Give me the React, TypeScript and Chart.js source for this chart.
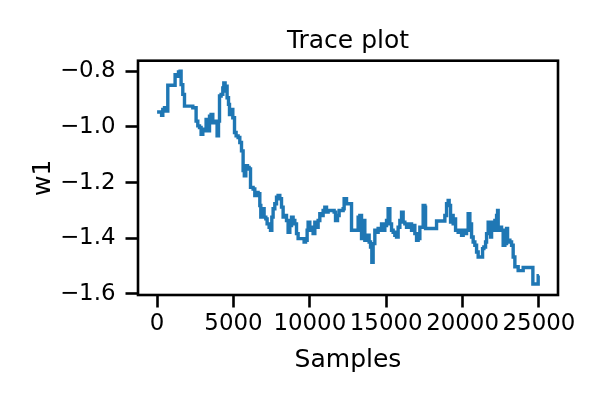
import React, { useEffect, useRef } from 'react';
import { Chart, registerables } from 'chart.js';

Chart.register(...registerables);

const titleText = 'Trace plot';
const xLabel = 'Samples';
const yLabel = 'w1';

const samples = [0,262,295,373,485,589,668,701,1094,1179,1290,1401,1506,1572,1683,1794,2227,2338,2449,2554,2665,2777,2882,2993,3104,3209,3320,3432,3536,3648,3798,3929,4021,4087,4191,4303,4368,4453,4519,4584,4676,4741,4846,4958,5069,5174,5305,5416,5527,5632,5711,5809,5920,6025,6117,6287,6398,6510,6614,6726,6791,6903,7007,7119,7204,7335,7427,7512,7597,7708,7820,7924,8036,8147,8252,8363,8474,8579,8691,8802,8907,9018,9129,9234,9457,9627,9719,9824,9889,10000,10112,10216,10328,10439,10544,10655,10766,10871,10982,11094,11199,11592,11683,11814,11919,12181,12247,12404,12620,12731,12947,13163,13275,13386,13491,13602,13713,13884,13976,14061,14146,14257,14369,14473,14585,14696,14801,14912,15023,15128,15240,15351,15456,15567,15678,15783,15895,16006,16111,16222,16333,16438,16661,16766,16877,16989,17093,17205,17316,17421,17532,17578,18187,18298,18796,18842,18953,19058,19124,19215,19281,19385,19451,19543,19713,19825,19936,20041,20152,20263,20368,20479,20590,20695,20806,20918,21023,21245,21311,21396,21507,21573,21678,21790,21836,21901,22005,22051,22117,22228,22293,22333,22444,22555,22660,22772,22883,22948,23099,23210,23315,23426,23642,23865,23970,24507,24605,24867,24952,25000];

const w1 = [-0.946,-0.946,-0.958,-0.937,-0.931,-0.943,-0.943,-0.850,-0.850,-0.812,-0.818,-0.802,-0.800,-0.848,-0.883,-0.925,-0.925,-0.931,-0.931,-0.979,-0.996,-1.002,-1.026,-1.008,-1.014,-0.973,-1.014,-0.961,-0.955,-0.985,-0.979,-1.032,-0.979,-0.889,-0.883,-0.860,-0.842,-0.871,-0.854,-0.895,-0.919,-0.955,-0.937,-0.967,-1.020,-1.032,-1.038,-1.056,-1.086,-1.157,-1.175,-1.139,-1.145,-1.151,-1.217,-1.223,-1.246,-1.235,-1.240,-1.282,-1.324,-1.294,-1.324,-1.330,-1.348,-1.360,-1.371,-1.324,-1.294,-1.276,-1.252,-1.246,-1.258,-1.288,-1.324,-1.318,-1.336,-1.378,-1.354,-1.324,-1.336,-1.348,-1.383,-1.401,-1.401,-1.413,-1.407,-1.371,-1.342,-1.360,-1.371,-1.383,-1.342,-1.360,-1.336,-1.312,-1.318,-1.300,-1.288,-1.306,-1.300,-1.306,-1.336,-1.318,-1.300,-1.294,-1.258,-1.276,-1.276,-1.371,-1.371,-1.324,-1.318,-1.401,-1.336,-1.407,-1.389,-1.413,-1.431,-1.486,-1.419,-1.371,-1.378,-1.365,-1.371,-1.348,-1.371,-1.354,-1.336,-1.294,-1.348,-1.371,-1.378,-1.389,-1.395,-1.360,-1.336,-1.306,-1.342,-1.348,-1.360,-1.348,-1.371,-1.354,-1.383,-1.407,-1.401,-1.360,-1.360,-1.282,-1.288,-1.365,-1.365,-1.338,-1.338,-1.318,-1.276,-1.264,-1.282,-1.342,-1.318,-1.348,-1.330,-1.371,-1.378,-1.371,-1.389,-1.371,-1.383,-1.371,-1.312,-1.348,-1.395,-1.413,-1.425,-1.449,-1.467,-1.467,-1.437,-1.431,-1.413,-1.383,-1.342,-1.348,-1.395,-1.342,-1.342,-1.371,-1.336,-1.318,-1.300,-1.371,-1.360,-1.371,-1.425,-1.419,-1.365,-1.407,-1.413,-1.425,-1.467,-1.502,-1.516,-1.516,-1.505,-1.505,-1.564,-1.564,-1.534,-1.534];

const xTickValues = [0, 5000, 10000, 15000, 20000, 25000];
const yTickValues = [-1.6, -1.4, -1.2, -1.0, -0.8];

const FONT = 'DejaVu Sans';

export default function App() {
  const ref = useRef<HTMLCanvasElement>(null);
  useEffect(() => {
    const canvas = ref.current;
    if (!canvas) return;
    const data = samples.map((s, i) => ({ x: s, y: w1[i] }));
    const frame = {
      id: 'frame',
      afterDatasetsDraw(chart: any) {
        const { ctx, chartArea: a } = chart;
        ctx.save();
        ctx.strokeStyle = '#000';
        ctx.lineWidth = 2.6;
        ctx.strokeRect(a.left, a.top, a.right - a.left, a.bottom - a.top);
        ctx.restore();
      },
      afterDraw(chart: any) {
        const { ctx, chartArea: a } = chart;
        ctx.save();
        ctx.fillStyle = '#000';
        ctx.font = `25px "${FONT}"`;
        ctx.textAlign = 'center';
        ctx.textBaseline = 'alphabetic';
        ctx.fillText(titleText, (a.left + a.right) / 2, 47.5);
        ctx.restore();
      },
    };
    const chart = new Chart(canvas, {
      type: 'line',
      data: {
        datasets: [
          {
            data,
            borderColor: '#1f77b4',
            borderWidth: 3.4,
            pointRadius: 0,
            fill: false,
            tension: 0,
            stepped: true,
            borderJoinStyle: 'miter',
          },
        ],
      },
      options: {
        responsive: false,
        animation: false,
        layout: { padding: { left: 0, right: 42, top: 60.7, bottom: 0 } },
        plugins: {
          legend: { display: false },
          tooltip: { enabled: false },
          title: { display: false },
        },
        scales: {
          x: {
            type: 'linear',
            min: -1250,
            max: 26250,
            afterBuildTicks: (s: any) => {
              s.ticks = xTickValues.map((v) => ({ value: v }));
            },
            afterFit: (s: any) => {
              s.height = 105;
            },
            ticks: {
              color: '#000',
              font: { family: FONT, size: 22.9 },
              padding: 3,
              maxRotation: 0,
              autoSkip: false,
              callback: (v: any) => String(v),
            },
            grid: {
              drawOnChartArea: false,
              drawTicks: true,
              tickLength: 12.5,
              tickWidth: 2.6,
              tickColor: '#000',
            },
            border: { display: false },
            title: {
              display: true,
              text: xLabel,
              color: '#000',
              font: { family: FONT, size: 25 },
              padding: { top: 0, bottom: 25 },
            },
          },
          y: {
            type: 'linear',
            min: -1.6036,
            max: -0.762,
            afterBuildTicks: (s: any) => {
              s.ticks = yTickValues.map((v) => ({ value: v }));
            },
            afterFit: (s: any) => {
              s.width = 138;
            },
            ticks: {
              color: '#000',
              font: { family: FONT, size: 22.9 },
              padding: 10,
              autoSkip: false,
              callback: (v: any) => Number(v).toFixed(1).replace('-', '\u2212'),
            },
            grid: {
              drawOnChartArea: false,
              drawTicks: true,
              tickLength: 12.5,
              tickWidth: 2.6,
              tickColor: '#000',
            },
            border: { display: false },
            title: {
              display: true,
              text: yLabel,
              color: '#000',
              font: { family: FONT, size: 25 },
              padding: { top: 28.6, bottom: 0 },
            },
          },
        },
      },
      plugins: [frame],
    } as any);
    return () => chart.destroy();
  }, []);
  return (
    <div style={{ position: 'absolute', left: 0, top: 0, width: 600, height: 400, background: '#fff' }}>
      <canvas ref={ref} width={600} height={400} style={{ width: 600, height: 400, display: 'block' }} />
    </div>
  );
}
